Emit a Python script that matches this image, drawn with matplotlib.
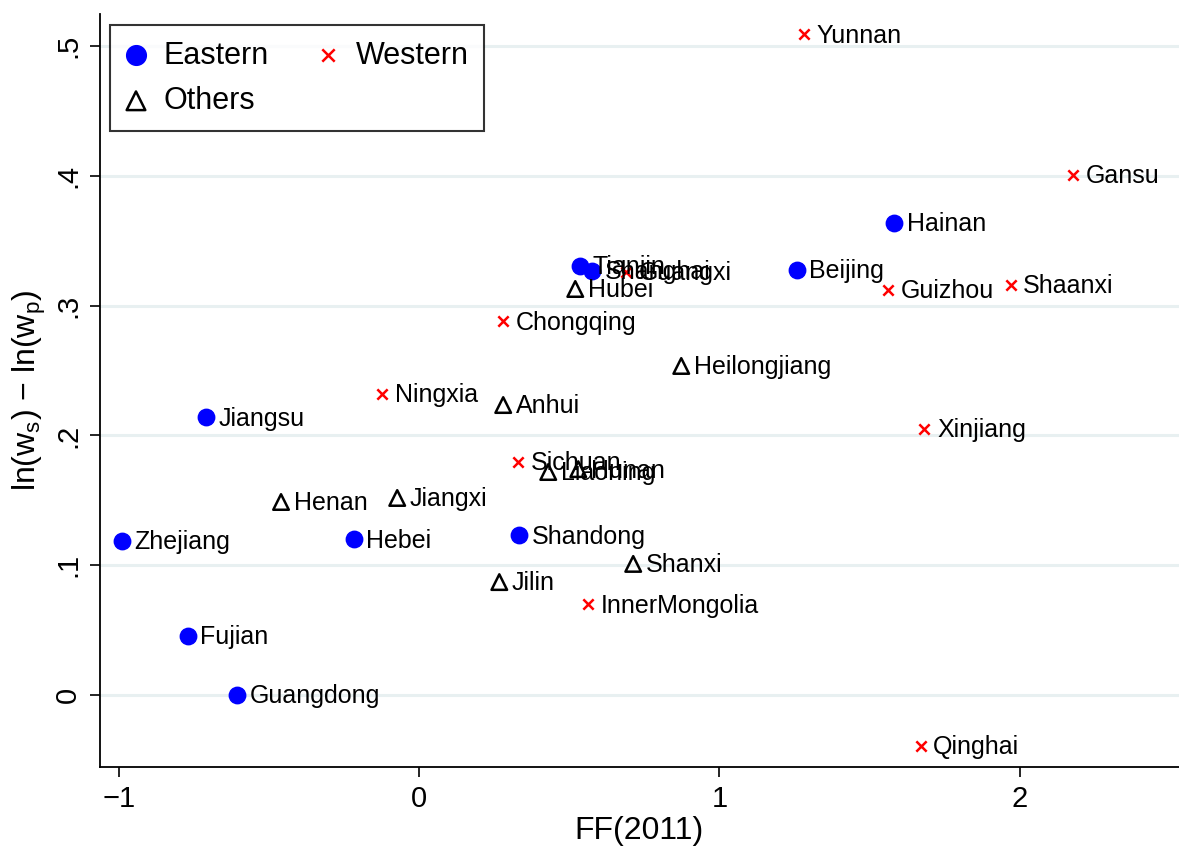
import matplotlib
matplotlib.use("Agg")
import matplotlib.pyplot as plt

plt.rcParams['font.family'] = ['Liberation Sans', 'DejaVu Sans']
plt.rcParams['mathtext.default'] = 'regular'

# Eastern provinces
east_names = ['Tianjin', 'Shanghai', 'Beijing', 'Hainan', 'Jiangsu', 'Zhejiang',
              'Hebei', 'Shandong', 'Fujian', 'Guangdong']
east_x = [0.537, 0.577, 1.257, 1.583, -0.71, -0.99, -0.217, 0.333, -0.77, -0.607]
east_y = [0.3305, 0.3267, 0.3274, 0.3636, 0.214, 0.1186, 0.120, 0.123, 0.0455, 0.0]

# Western provinces
west_names = ['Yunnan', 'Gansu', 'Guizhou', 'Shaanxi', 'Guangxi', 'Chongqing',
              'Ningxia', 'Xinjiang', 'Sichuan', 'InnerMongolia', 'Qinghai']
west_x = [1.283, 2.177, 1.563, 1.97, 0.69, 0.28, -0.123, 1.683, 0.33, 0.563, 1.67]
west_y = [0.509, 0.4006, 0.312, 0.316, 0.326, 0.288, 0.232, 0.205, 0.1795, 0.070, -0.039]

# Others
oth_names = ['Hubei', 'Heilongjiang', 'Anhui', 'Henan', 'Jiangxi', 'Hunan',
             'Liaoning', 'Jilin', 'Shanxi']
oth_x = [0.52, 0.873, 0.28, -0.46, -0.073, 0.53, 0.43, 0.267, 0.713]
oth_y = [0.3128, 0.2535, 0.2234, 0.1487, 0.1518, 0.174, 0.1718, 0.087, 0.101]

yticks = [0, 0.1, 0.2, 0.3, 0.4, 0.5]
ytick_labels = ['0', '.1', '.2', '.3', '.4', '.5']
xticks = [-1, 0, 1, 2]
xtick_labels = ['\u22121', '0', '1', '2']

fig = plt.figure(figsize=(11.79, 8.5), dpi=100)
ax = fig.add_axes([0.0848, 0.0976, 0.915, 0.886])

for yt in yticks:
    ax.axhline(yt, color='#e8f0f1', lw=2.2, zorder=0)

h_e = ax.scatter(east_x, east_y, s=140, marker='o', color='#0000ff', zorder=3, label='Eastern')
h_w = ax.scatter(west_x, west_y, s=55, marker='x', color='#ff0000', linewidths=1.8, zorder=3, label='Western')
h_o = ax.scatter(oth_x, oth_y, s=125, marker='^', facecolors='none', edgecolors='black',
                 linewidths=1.8, zorder=3, label='Others')

for names, xs, ys in [(east_names, east_x, east_y), (west_names, west_x, west_y), (oth_names, oth_x, oth_y)]:
    for n, x, y in zip(names, xs, ys):
        ax.annotate(n, (x, y), xytext=(9, -1), textcoords='offset points',
                    ha='left', va='center', fontsize=18, color='black', zorder=4)

ax.set_xlim(-1.063, 2.53)
ax.set_ylim(-0.0555, 0.5247)
ax.set_xticks(xticks)
ax.set_xticklabels(xtick_labels, fontsize=21)
ax.set_yticks(yticks)
ax.set_yticklabels(ytick_labels, fontsize=21, rotation=90, va='center')
ax.tick_params(direction='out', length=7, width=1.2, pad=6)

for s in ['top', 'right']:
    ax.spines[s].set_visible(False)
for s in ['left', 'bottom']:
    ax.spines[s].set_linewidth(1.3)

ax.set_xlabel('FF(2011)', fontsize=23, labelpad=2)
ax.set_ylabel(r'ln(w$_s$) $-$ ln(w$_p$)', fontsize=23, labelpad=4)

# row 1: Eastern, Western; row 2: Others (matplotlib fills columns first)
leg = ax.legend([h_e, h_o, h_w], ['Eastern', 'Others', 'Western'], loc='upper left', ncol=2,
                fontsize=22, frameon=True, fancybox=False, edgecolor='black',
                borderpad=0.5, handlelength=0.7, handletextpad=0.55, columnspacing=1.6,
                labelspacing=0.5, borderaxespad=0, bbox_to_anchor=(0.0093, 0.985),
                scatterpoints=1, markerscale=1.2)
leg.get_frame().set_linewidth(1.5)

fig.savefig('out.png', dpi=100)
